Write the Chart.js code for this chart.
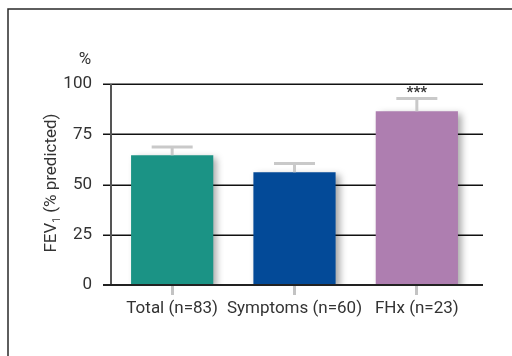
<!DOCTYPE html>
<html>
<head>
<meta charset="utf-8">
<script src="https://cdn.jsdelivr.net/npm/chart.js@4/dist/chart.umd.min.js"></script>
<style>
  html, body { margin: 0; padding: 0; background: #ffffff; }
  #wrap { position: relative; width: 512px; height: 356px; overflow: hidden; }
  canvas { display: block; }
</style>
</head>
<body>
<div id="wrap"><canvas id="c" width="512" height="356"></canvas></div>
<script>
// FEV1 (% predicted) by group, mean with SD
const groups = ['Total (n=83)', 'Symptoms (n=60)', 'FHx (n=23)'];
const fevMean = [64.6, 56.1, 86.5];
const fevSD = [4.0, 4.3, 6.3];
const significance = ['', '', '***'];
const yTicks = [0, 25, 50, 75, 100];
const barColors = ['#1b9385', '#034a98', '#ae7eb0'];

const FONT = 'Roboto, "Liberation Sans", sans-serif';

// Frame, gridlines, axis lines, error bars and annotations
const decor = {
  id: 'decor',
  beforeDraw(chart) {
    const ctx = chart.ctx;
    ctx.save();
    ctx.strokeStyle = '#2a2a2a';
    ctx.lineWidth = 1.5;
    ctx.beginPath();
    ctx.moveTo(8, 356);
    ctx.lineTo(8, 9);
    ctx.lineTo(512, 9);
    ctx.stroke();
    ctx.restore();
  },
  beforeDatasetsDraw(chart) {
    const ctx = chart.ctx;
    const y = chart.scales.y;
    const a = chart.chartArea;
    ctx.save();
    // horizontal gridlines with tick marks on the left
    ctx.strokeStyle = '#111';
    ctx.lineWidth = 1.5;
    yTicks.forEach(v => {
      if (v === 0) return;
      const py = Math.round(y.getPixelForValue(v)) + 0.25;
      ctx.beginPath();
      ctx.moveTo(a.left - 8, py);
      ctx.lineTo(a.right + 5, py);
      ctx.stroke();
    });
    // y axis line
    ctx.strokeStyle = '#555';
    ctx.lineWidth = 2;
    ctx.beginPath();
    ctx.moveTo(a.left, y.getPixelForValue(100));
    ctx.lineTo(a.left, a.bottom);
    ctx.stroke();
    ctx.restore();
    // soft drop shadow under the bars
    ctx.save();
    ctx.shadowColor = 'rgba(0,0,0,0.35)';
    ctx.shadowBlur = 7;
    ctx.shadowOffsetX = 4;
    ctx.shadowOffsetY = 3;
  },
  afterDatasetsDraw(chart) {
    const ctx = chart.ctx;
    ctx.restore();
    const y = chart.scales.y;
    const a = chart.chartArea;
    const meta = chart.getDatasetMeta(0);
    ctx.save();
    // error bars (upper SD)
    ctx.strokeStyle = '#c9c9c9';
    ctx.lineWidth = 3;
    meta.data.forEach((bar, i) => {
      const top = y.getPixelForValue(fevMean[i] + fevSD[i]);
      ctx.beginPath();
      ctx.moveTo(bar.x, bar.y);
      ctx.lineTo(bar.x, top);
      ctx.moveTo(bar.x - 20.5, top);
      ctx.lineTo(bar.x + 20.5, top);
      ctx.stroke();
      if (significance[i]) {
        ctx.fillStyle = '#333';
        ctx.font = 'bold 15px ' + FONT;
        ctx.textAlign = 'center';
        ctx.textBaseline = 'middle';
        ctx.fillText(significance[i], bar.x, top - 5);
      }
    });
    // x axis line
    ctx.strokeStyle = '#222';
    ctx.lineWidth = 2;
    ctx.beginPath();
    ctx.moveTo(a.left - 8, a.bottom);
    ctx.lineTo(a.right + 5, a.bottom);
    ctx.stroke();
    // unit label and axis title
    ctx.fillStyle = '#333';
    ctx.font = '17px ' + FONT;
    ctx.textAlign = 'center';
    ctx.textBaseline = 'middle';
    ctx.fillText('%', 85, 60);
    ctx.translate(52, 183);
    ctx.rotate(-Math.PI / 2);
    const main = '17px ' + FONT, sub = '10px ' + FONT;
    const p1 = 'FEV', p2 = '1', p3 = ' (% predicted)';
    ctx.font = main; const w1 = ctx.measureText(p1).width, w3 = ctx.measureText(p3).width;
    ctx.font = sub; const w2 = ctx.measureText(p2).width;
    let x = -(w1 + w2 + w3) / 2;
    ctx.textAlign = 'left';
    ctx.font = main; ctx.fillText(p1, x, 0); x += w1;
    ctx.font = sub; ctx.fillText(p2, x, 5); x += w2;
    ctx.font = main; ctx.fillText(p3, x, 0);
    ctx.restore();
  }
};

new Chart(document.getElementById('c'), {
  type: 'bar',
  data: {
    labels: groups,
    datasets: [{
      data: fevMean,
      backgroundColor: barColors,
      borderWidth: 0,
      categoryPercentage: 1,
      barPercentage: 0.672
    }]
  },
  options: {
    responsive: false,
    animation: false,
    events: [],
    layout: { padding: { left: 0, right: 34, top: 84, bottom: 0 } },
    plugins: { legend: { display: false }, tooltip: { enabled: false } },
    scales: {
      x: {
        afterFit(s) { s.height = 71; },
        border: { display: false },
        grid: {
          display: true, drawOnChartArea: false, offset: false,
          tickLength: 10, color: '#c3c3c3', lineWidth: 3
        },
        ticks: {
          color: '#333', padding: 4, autoSkip: false,
          maxRotation: 0, minRotation: 0,
          font: { family: FONT, size: 17 }
        }
      },
      y: {
        min: 0, max: 100,
        afterFit(s) { s.width = 111; },
        afterBuildTicks(s) { s.ticks = yTicks.map(v => ({ value: v })); },
        border: { display: false },
        grid: { display: false, drawTicks: false },
        ticks: { color: '#333', padding: 19, font: { family: FONT, size: 17 } }
      }
    }
  },
  plugins: [decor]
});
</script>
</body>
</html>
